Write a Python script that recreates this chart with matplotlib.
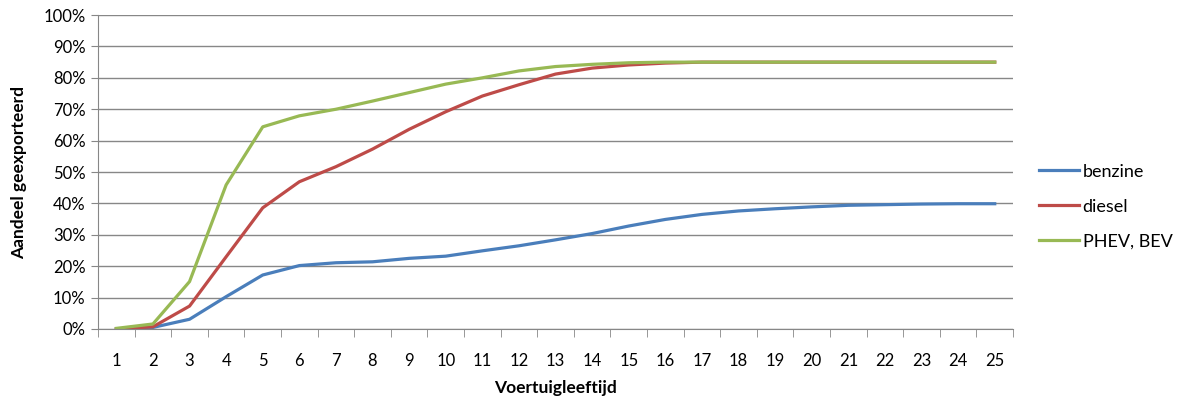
import matplotlib.pyplot as plt
from matplotlib.ticker import FuncFormatter, MultipleLocator

plt.rcParams['font.family'] = ['Lato', 'DejaVu Sans']

# leeftijd van het voertuig (jaren)
leeftijd = list(range(1, 26))

benzine = [0.0, 0.005, 0.031, 0.103, 0.172, 0.202, 0.211, 0.214, 0.225, 0.232,
           0.249, 0.265, 0.284, 0.304, 0.328, 0.349, 0.365, 0.376, 0.383, 0.389,
           0.394, 0.396, 0.398, 0.399, 0.399]
diesel = [0.0, 0.007, 0.073, 0.23, 0.386, 0.469, 0.517, 0.573, 0.636, 0.692,
          0.742, 0.778, 0.812, 0.831, 0.841, 0.847, 0.85, 0.85, 0.85, 0.85,
          0.85, 0.85, 0.85, 0.85, 0.85]
phev_bev = [0.002, 0.016, 0.151, 0.459, 0.644, 0.679, 0.70, 0.726, 0.753, 0.78,
            0.80, 0.822, 0.836, 0.843, 0.848, 0.85, 0.85, 0.85, 0.85, 0.85,
            0.85, 0.85, 0.85, 0.85, 0.85]

fig = plt.figure(figsize=(11.77, 3.96), dpi=100)
ax = fig.add_axes([0.0833, 0.1692, 0.7774, 0.7928])

ax.plot(leeftijd, benzine, color='#4A7EBB', lw=2.3, label='benzine')
ax.plot(leeftijd, diesel, color='#BE4B48', lw=2.3, label='diesel')
ax.plot(leeftijd, phev_bev, color='#98B954', lw=2.3, label='PHEV, BEV')

ax.set_xlim(0.5, 25.5)
ax.set_ylim(0, 1)
ax.set_xticks(leeftijd)
ax.set_xticks([i + 0.5 for i in range(0, 26)], minor=True)
ax.tick_params(axis='x', which='major', length=0, pad=17, labelsize=12)
ax.tick_params(axis='x', which='minor', length=6, color='#878787')
ax.yaxis.set_major_locator(MultipleLocator(0.1))
ax.yaxis.set_major_formatter(FuncFormatter(lambda v, p: f'{v * 100:.0f}%'))
ax.tick_params(axis='y', length=5, color='#878787', labelsize=12, pad=4)

ax.grid(axis='y', color='#878787', lw=1)
ax.set_axisbelow(True)
for s in ['top', 'right']:
    ax.spines[s].set_visible(False)
for s in ['left', 'bottom']:
    ax.spines[s].set_color('#878787')

ax.set_xlabel('Voertuigleeftijd', fontsize=12.5, fontweight='bold', labelpad=8)
ax.set_ylabel('Aandeel geexporteerd', fontsize=12.5, fontweight='bold', labelpad=12)

ax.legend(loc='center left', bbox_to_anchor=(1.015, 0.39), frameon=False,
          fontsize=13, handlelength=2.2, handletextpad=0.2, labelspacing=1.05,
          borderaxespad=0.3)

fig.savefig('out.png', dpi=100)
